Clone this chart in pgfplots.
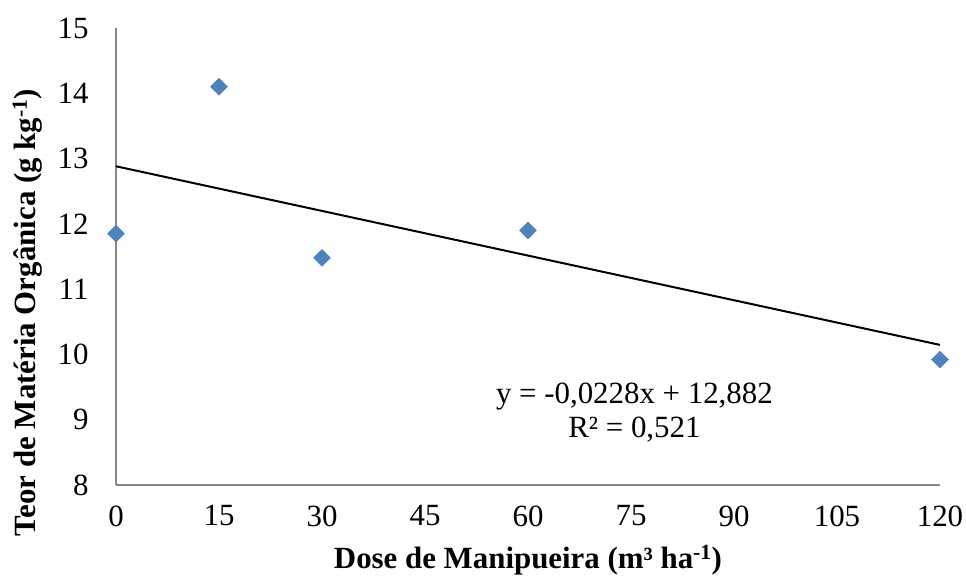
\documentclass[border=0pt]{standalone}
\usepackage{pgfplots}
\pgfplotsset{compat=1.18}
\usepackage{fontspec}
\setmainfont{Liberation Serif}
\usetikzlibrary{calc}
\definecolor{mkblue}{HTML}{4F81BD}
\definecolor{axgray}{HTML}{868686}
\begin{document}
\begin{tikzpicture}
\begin{axis}[
  scale only axis,
  width=824bp, height=457bp,
  xmin=0, xmax=120, ymin=8, ymax=15,
  xtick={0,15,30,45,60,75,90,105,120},
  ytick={8,9,10,11,12,13,14,15},
  axis lines=left,
  axis line style={draw=axgray, line width=1.5bp, -},
  major tick length=0pt,
  /pgf/number format/assume math mode=true,
  tick label style={font=\fontsize{31}{34}\selectfont},
  xticklabel style={yshift=-17bp},
  yticklabel style={xshift=-24bp},
  xlabel={\textbf{Dose de Manipueira (m³ ha\textsuperscript{-1})}},
  ylabel={\textbf{Teor de Matéria Orgânica (g kg\textsuperscript{-1})}},
  label style={font=\fontsize{31}{34}\selectfont},
  xlabel style={yshift=-12bp},
  ylabel style={yshift=8bp, xshift=-56bp},
  clip=false,
]
\addplot[only marks, mark=square*, mark size=6bp, mark options={rotate=45, fill=mkblue, draw=mkblue}]
  coordinates {(0,11.85) (15,14.1) (30,11.48) (60,11.9) (120,9.92)};
\addplot[black, line width=2bp] coordinates {(0,12.882) (120,10.146)};
\node[font=\fontsize{31}{34}\selectfont, align=center] at (axis cs:75.5,9.11)
  {y = -0,0228x + 12,882\\R² = 0,521};
\coordinate (SW) at (rel axis cs:0,0);
\coordinate (NE) at (rel axis cs:1,1);
\end{axis}
\pgfresetboundingbox
\path[use as bounding box] ($(SW)+(-116bp,-95bp)$) rectangle ($(NE)+(26bp,28bp)$);
\end{tikzpicture}
\end{document}
